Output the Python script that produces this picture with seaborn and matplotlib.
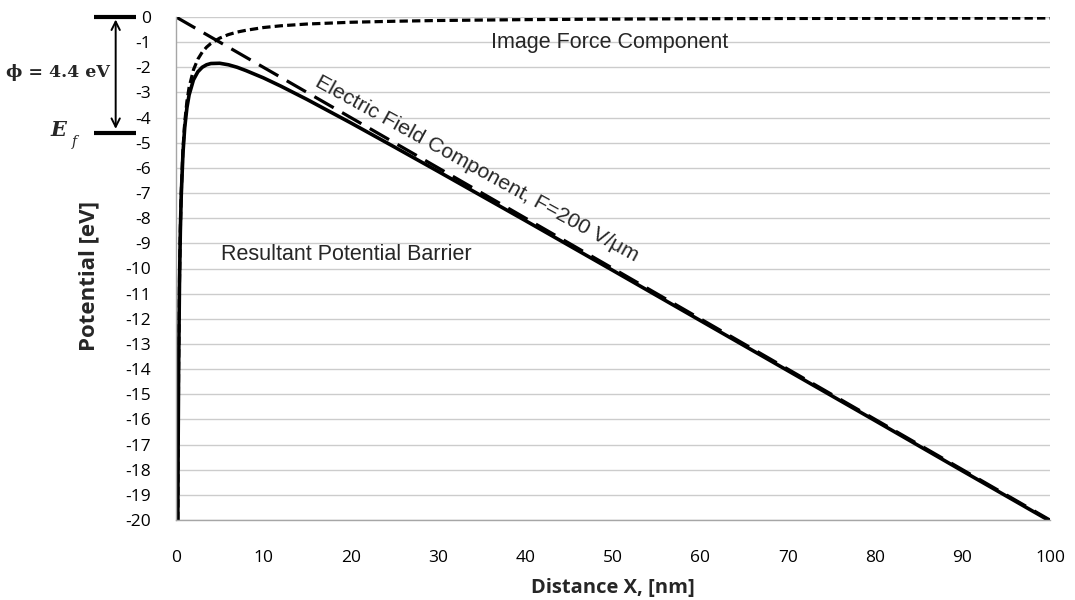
import matplotlib
matplotlib.use("Agg")
import matplotlib.pyplot as plt
import seaborn as sns
import numpy as np

# ---- data ----
x_field = [0, 100]
v_field = [0, -20]

x_curve = [0.21, 0.25, 0.3, 0.4, 0.5, 0.6, 0.8, 1, 1.25, 1.5, 2, 2.5, 3, 3.5, 4, 5, 6, 7, 8,
           10, 12, 15, 20, 25, 30, 40, 50, 60, 70, 80, 90, 100]
v_image = [-20.0, -16.8, -14.0, -10.5, -8.4, -7.0, -5.25, -4.2, -3.36, -2.8, -2.1, -1.68, -1.4,
           -1.2, -1.05, -0.84, -0.7, -0.6, -0.53, -0.42, -0.35, -0.28, -0.21, -0.17, -0.14,
           -0.105, -0.084, -0.07, -0.06, -0.053, -0.047, -0.042]
v_result = [-20.04, -16.85, -14.06, -10.58, -8.5, -7.12, -5.41, -4.4, -3.61, -3.1, -2.5, -2.18,
            -2.0, -1.9, -1.85, -1.84, -1.9, -2.0, -2.13, -2.42, -2.75, -3.28, -4.21, -5.17,
            -6.14, -8.1, -10.08, -12.07, -14.06, -16.05, -18.05, -20.04]

x_ticks = list(range(0, 101, 10))
y_ticks = list(range(-20, 1, 1))

sns.set_style("white")
plt.rcParams['font.family'] = ['Open Sans', 'DejaVu Sans']
plt.rcParams['lines.scale_dashes'] = False

fig = plt.figure(figsize=(10.75, 6.0), dpi=100)
ax = fig.add_axes([0.1637, 0.1333, 0.8130, 0.8384])

sns.lineplot(x=x_field, y=v_field, ax=ax, color='black', linewidth=2.3)
ax.lines[-1].set_linestyle((0, (16, 7)))
sns.lineplot(x=x_curve, y=v_image, ax=ax, color='black', linewidth=2.3)
ax.lines[-1].set_linestyle((0, (6, 3)))
sns.lineplot(x=x_curve, y=v_result, ax=ax, color='black', linewidth=2.6)

ax.set_xlim(0, 100)
ax.set_ylim(-20, 0)
ax.set_xticks(x_ticks)
ax.set_yticks(y_ticks)
ax.set_yticklabels([str(v) for v in y_ticks])
ax.grid(axis='y', color='#cccccc', linewidth=1.0)
ax.set_axisbelow(True)
for s in ['top', 'right']:
    ax.spines[s].set_visible(False)
for s in ['left', 'bottom']:
    ax.spines[s].set_color('#a6a6a6')
    ax.spines[s].set_linewidth(1.0)
ax.tick_params(axis='both', color='#a6a6a6', labelsize=12.5, labelcolor='black', width=1.0)
ax.tick_params(axis='x', direction='inout', length=9, pad=17)
ax.tick_params(axis='y', direction='out', length=8, pad=10)
ax.set_xlabel('Distance X, [nm]', fontsize=14.5, fontweight='bold')
ax.set_ylabel('Potential [eV]', fontsize=16, fontweight='bold')
ax.xaxis.set_label_coords(0.5, -0.135)
ax.xaxis.label.set_verticalalignment('center')
ax.yaxis.set_label_coords(-0.0994, 0.486)
ax.yaxis.label.set_verticalalignment('center')

lab_font = ['Liberation Sans', 'DejaVu Sans']
ax.text(36.0, -1.0, 'Image Force Component', fontsize=15.5, family=lab_font, va='center', ha='left')
ax.text(5.1, -9.46, 'Resultant Potential Barrier', fontsize=15.5, family=lab_font, va='center', ha='left')
ax.text(34.4, -6.05, 'Electric Field Component, F=200 V/μm', fontsize=15.3, family=lab_font,
        va='center', ha='center', rotation=-28.8, rotation_mode='anchor')

# work-function annotation (outside the axes)
ax.plot([-9.4, -4.6], [0, 0], color='black', linewidth=3, clip_on=False, solid_capstyle='butt')
ax.plot([-9.4, -4.6], [-4.6, -4.6], color='black', linewidth=3, clip_on=False, solid_capstyle='butt')
ax.annotate('', xy=(-6.9, -4.45), xytext=(-6.9, -0.1), annotation_clip=False,
            arrowprops=dict(arrowstyle='<->', color='black', linewidth=1.4, mutation_scale=15,
                            shrinkA=0, shrinkB=0))
ax.text(-13.5, -2.2, 'ϕ = 4.4 eV', fontsize=12.5, fontweight='bold', family=['DejaVu Serif'],
        ha='center', va='center', clip_on=False)
ax.text(-13.5, -4.5, 'E', fontsize=15, fontweight='bold', style='italic', family=['DejaVu Serif'],
        ha='center', va='center', clip_on=False)
ax.text(-11.6, -4.97, 'f', fontsize=10, style='italic', family=['DejaVu Serif'],
        ha='center', va='center', clip_on=False)

fig.savefig('out.png', dpi=100)
